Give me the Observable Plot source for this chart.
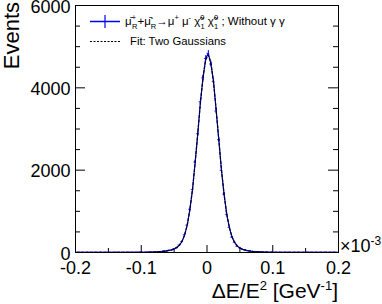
<!DOCTYPE html>
<html><head><meta charset="utf-8">
<script src="https://cdn.jsdelivr.net/npm/d3@7"></script>
<script src="https://cdn.jsdelivr.net/npm/@observablehq/plot@0.6"></script>
<style>html,body{margin:0;padding:0;background:#fff;} #chart{position:relative;width:382px;height:304px;}</style>
</head><body><div id="chart"></div>
<script>
// x in units of 1e-3 GeV^-1 ; bins of width 0.004 from -0.2 to 0.2
const binLow = -0.2;
const binWidth = 0.004;
const counts = [
  3,5,4,2,6,4,3,5,4,6,3,4,5,2,4,6,5,3,4,5,6,4,
  5,4,7,6,5,9,7,12,11,19,21,31,34,51,60,88,116,181,265,433,664,1052,1531,2197,2884,3661,4241,4712,
  4838,4578,4149,3437,2740,1996,1419,927,610,374,249,153,113,76,62,43,36,24,22,15,13,9,10,6,7,4,6,5,
  3,4,6,5,2,4,5,3,4,6,4,5,3,4,2,5,4,6,3,4,5,4
];
const fitValues = [
  4,4,4,4,4,4,4,4,4,4,4,4,4,4,4,4,4,4,4,4,4,4,
  4,5,5,5,6,7,8,10,13,17,22,28,36,48,63,85,120,176,271,426,673,1039,1544,2180,2905,3637,4266,4681,
  4801,4603,4125,3459,2719,2011,1404,935,601,380,243,159,109,79,59,45,34,26,20,16,12,10,8,7,6,5,5,4,
  4,4,4,4,4,4,4,4,4,4,4,4,4,4,4,4,4,4,4,4,4,4
];
const xMajorTicks = [-0.2, -0.1, 0, 0.1, 0.2];
const xMinorTicks = [-0.15, -0.05, 0.05, 0.15];
const xTickLabels = ["-0.2", "-0.1", "0", "0.1", "0.2"];
const yMajorTicks = [0, 2000, 4000, 6000];
const yMinorTicks = [500, 1000, 1500, 2500, 3000, 3500, 4500, 5000, 5500];
const yTickLabels = ["0", "2000", "4000", "6000"];

const centers = counts.map((_, i) => +(binLow + binWidth * (i + 0.5)).toFixed(4));
const hist = counts.map((c, i) => ({x: centers[i], y: c, err: Math.sqrt(c)}));
const fit = fitValues.map((v, i) => ({x: centers[i], y: v}));

const W = 382, H = 304, mL = 75, mR = 44, mT = 5, mB = 52;
const fw = W - mL - mR, fh = H - mT - mB;
const FONT = "'Liberation Sans', Arial, Helvetica, sans-serif";

const svg = Plot.plot({
  width: W, height: H,
  marginLeft: mL, marginRight: mR, marginTop: mT, marginBottom: mB,
  x: {domain: [-0.2, 0.2]},
  y: {domain: [0, 6000]},
  style: {fontFamily: FONT, fontSize: "18px", color: "black", background: "white", overflow: "visible"},
  marks: [
    Plot.ruleX(xMajorTicks, {x: d => d, insetTop: fh - 7, stroke: "black"}),
    Plot.ruleX(xMinorTicks, {x: d => d, insetTop: fh - 4, stroke: "black"}),
    Plot.ruleY(yMajorTicks, {y: d => d, insetRight: fw - 10, stroke: "black"}),
    Plot.ruleY(yMajorTicks, {y: d => d, insetLeft: fw - 10, stroke: "black"}),
    Plot.ruleY(yMinorTicks, {y: d => d, insetRight: fw - 5, stroke: "black"}),
    Plot.ruleY(yMinorTicks, {y: d => d, insetLeft: fw - 5, stroke: "black"}),
    Plot.axisX(xMajorTicks, {tickSize: 0, tickPadding: 9, tickFormat: d => xTickLabels[xMajorTicks.indexOf(d)], label: null}),
    Plot.axisY(yMajorTicks, {tickSize: 0, tickPadding: 5, dy: 1.5, tickFormat: d => yTickLabels[yMajorTicks.indexOf(d)], label: null}),
    Plot.line(hist, {x: "x", y: "y", stroke: "#0000ff", strokeWidth: 1.2}),
    Plot.ruleX(hist, {x: "x", y1: d => d.y - d.err, y2: d => d.y + d.err, stroke: "#0000ff", strokeWidth: 1}),
    Plot.ruleY(hist, {y: "y", x1: d => d.x - binWidth / 2, x2: d => d.x + binWidth / 2, stroke: "#0000ff", strokeWidth: 0.8}),
    Plot.line(fit, {x: "x", y: "y", stroke: "black", strokeWidth: 1.2, strokeDasharray: "2.5,2"}),
    Plot.frame({stroke: "black", strokeWidth: 1})
  ]
});
document.getElementById("chart").appendChild(svg);

const s = d3.select(svg);
function rich(x, y, size, parts, anchor) {
  const t = s.append("text").attr("x", x).attr("y", y)
    .attr("font-family", FONT).attr("font-size", size).attr("fill", "black")
    .attr("text-anchor", anchor || "start");
  let cur = 0;
  for (const p of parts) {
    const sh = p.sh || 0;
    const ts = t.append("tspan").text(p.t).attr("dy", -(sh - cur));
    if (p.s) ts.attr("font-size", p.s);
    if (p.dx) ts.attr("dx", p.dx);
    cur = sh;
  }
  return t;
}
// Y title
s.append("text").attr("transform", "translate(19,2) rotate(-90)")
  .attr("text-anchor", "end").attr("font-family", FONT).attr("font-size", 22).text("Events");
// X title
rich(338, 298, 21, [{t: "ΔE/E"}, {t: "2", s: 13, sh: 8}, {t: " [GeV"}, {t: "-1", s: 13, sh: 8}, {t: "]"}], "end");
// exponent
rich(340, 252, 18, [{t: "×10"}, {t: "-3", s: 12, sh: 7}]);
// legend samples
s.append("line").attr("x1", 90).attr("x2", 120).attr("y1", 21.5).attr("y2", 21.5).attr("stroke", "#0000ff").attr("stroke-width", 1.5);
s.append("line").attr("x1", 105).attr("x2", 105).attr("y1", 15).attr("y2", 28).attr("stroke", "#0000ff").attr("stroke-width", 1.2);
s.append("line").attr("x1", 90).attr("x2", 120).attr("y1", 41.5).attr("y2", 41.5).attr("stroke", "black").attr("stroke-width", 1.2).attr("stroke-dasharray", "2,1.5");
rich(125, 25, 11.5, [
  {t: "μ\u0304"}, {t: "+", s: 7.5, sh: 5}, {t: "R", s: 7.5, sh: -4, dx: -4},
  {t: "+"}, {t: "μ\u0304"}, {t: "-", s: 7.5, sh: 5}, {t: "R", s: 7.5, sh: -4, dx: -2.5},
  {t: "→μ"}, {t: "+", s: 7.5, sh: 5}, {t: " μ"}, {t: "-", s: 7.5, sh: 5},
  {t: " χ\u0303"}, {t: "0", s: 7.5, sh: 5}, {t: "1", s: 7.5, sh: -4, dx: -4},
  {t: " χ\u0303"}, {t: "0", s: 7.5, sh: 5}, {t: "1", s: 7.5, sh: -4, dx: -4},
  {t: " ; Without γ γ"}
]);
rich(130, 45, 11.3, [{t: "Fit: Two Gaussians"}]);
</script>
</body></html>
